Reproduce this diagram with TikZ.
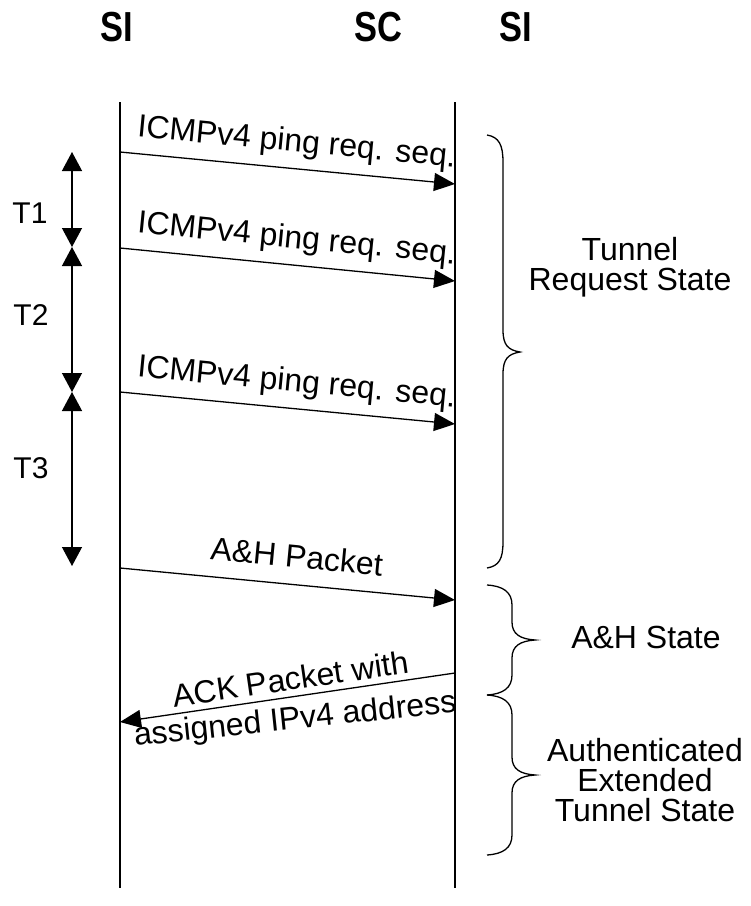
\documentclass[tikz,border=0pt]{standalone}
\usepackage{fontspec}
\setmainfont{Liberation Sans}
\usetikzlibrary{arrows.meta}

\begin{document}
\begin{tikzpicture}[x=1pt,y=-1pt,
  lifeline/.style={line width=1.6pt},
  msg/.style={line width=1.3pt,-{Triangle[width=18pt,length=21pt]}},
  period/.style={line width=1.3pt,{Triangle[width=20pt,length=19pt]}-{Triangle[width=20pt,length=19pt]}},
  curly/.style={line width=1.3pt},
  lbl/.style={font=\fontsize{32}{30}\selectfont,inner sep=0pt},
  tlbl/.style={font=\fontsize{30}{30}\selectfont,inner sep=0pt},
  head/.style={font=\fontsize{42}{42}\selectfont\bfseries,inner sep=0pt},
  msglbl/.style={lbl,sloped,anchor=base,yshift=17pt},
  statelbl/.style={lbl,align=center}
]
\useasboundingbox (0,0) rectangle (751,906);

% entity headings
\node[head] (siL) at (117,27) {\scalebox{0.82}[1]{SI}};
\node[head] (sc)  at (378,27) {\scalebox{0.82}[1]{SC}};
\node[head] (siR) at (516,27) {\scalebox{0.82}[1]{SI}};

% lifelines
\coordinate (lTop) at (120,102);
\coordinate (lBot) at (120,888);
\coordinate (rTop) at (455,102);
\coordinate (rBot) at (455,888);
\draw[lifeline] (lTop) -- (lBot);
\draw[lifeline] (rTop) -- (rBot);

% message end points
\coordinate (m1s) at (120,152);
\coordinate (m1e) at (455,184);
\coordinate (m2s) at (120,248);
\coordinate (m2e) at (455,281);
\coordinate (m3s) at (120,392);
\coordinate (m3e) at (455,424);
\coordinate (m4s) at (120,568);
\coordinate (m4e) at (455,600);
\coordinate (m5s) at (455,673);
\coordinate (m5e) at (120,722);

\draw[msg] (m1s) -- node[msglbl,pos=0.52] (l1) {ICMPv4 ping req. seq.} (m1e);
\draw[msg] (m2s) -- node[msglbl,pos=0.52] (l2) {ICMPv4 ping req. seq.} (m2e);
\draw[msg] (m3s) -- node[msglbl,pos=0.52] (l3) {ICMPv4 ping req. seq.} (m3e);
\draw[msg] (m4s) -- node[msglbl,pos=0.52] (l4) {A\&H Packet} (m4e);
\draw[msg] (m5s) -- (m5e);

% two-line label of the acknowledgement
\node[lbl,anchor=base,rotate=8.3] (l5a) at (292,690) {ACK Packet with};
\node[lbl,anchor=base,rotate=6] (l5b) at (296,729) {assigned IPv4 address};

% retransmission intervals
\coordinate (p0) at (72,152);
\coordinate (p1) at (72,247);
\coordinate (p2) at (72,392);
\coordinate (p3) at (72,566);
\draw[period] (p0) -- (p1);
\draw[period] (p1) -- (p2);
\draw[period] (p2) -- (p3);
\node[tlbl] (t1) at (30,213) {T1};
\node[tlbl] (t2) at (31,315) {T2};
\node[tlbl] (t3) at (31,468) {T3};

% state braces
\draw[curly] (487,135) .. controls (499,137) and (503,145) .. (503,162)
  -- (503,330) .. controls (503,345) and (508,350) .. (520,352)
  .. controls (508,354) and (503,359) .. (503,374)
  -- (503,542) .. controls (503,559) and (499,566) .. (487,568);
\draw[curly] (487,585) .. controls (503,586) and (512,592) .. (512,605)
  -- (512,622) .. controls (512,634) and (520,639) .. (535,640)
  .. controls (520,641) and (512,646) .. (512,658)
  -- (512,675) .. controls (512,688) and (503,694) .. (487,695);
\draw[curly] (487,695) .. controls (503,696) and (512,702) .. (512,715)
  -- (512,757) .. controls (512,769) and (520,774) .. (535,775)
  .. controls (520,776) and (512,781) .. (512,793)
  -- (512,835) .. controls (512,848) and (503,854) .. (487,855);

\node[statelbl] (s1) at (630,267) {Tunnel\\Request State};
\node[statelbl] (s2) at (646,637) {A\&H State};
\node[statelbl] (s3) at (645,780) {Authenticated\\Extended\\Tunnel State};
\end{tikzpicture}
\end{document}
